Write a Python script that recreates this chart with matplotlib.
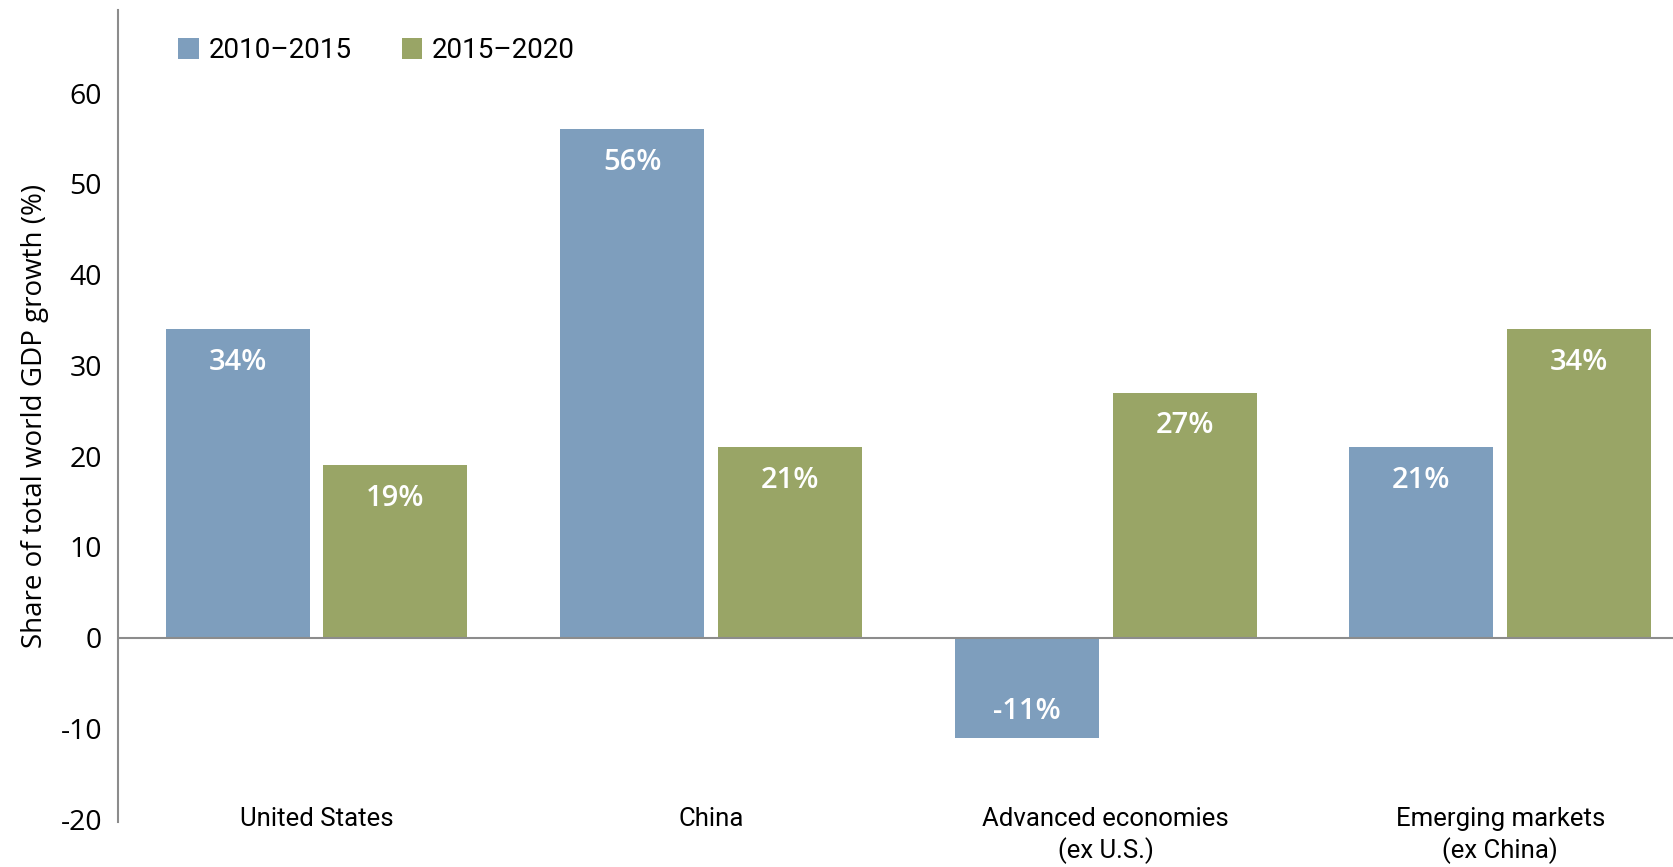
import matplotlib
matplotlib.use("Agg")
import matplotlib.pyplot as plt
import numpy as np

# data
regions = ["United States", "China", "Advanced economies\n(ex U.S.)", "Emerging markets\n(ex China)"]
share_2010_2015 = [34, 56, -11, 21]
share_2015_2020 = [19, 21, 27, 34]
series_names = ["2010\u20132015", "2015\u20132020"]
yticks = [-20, -10, 0, 10, 20, 30, 40, 50, 60]

blue = "#7e9ebd"
green = "#99a566"
narrow = ["Roboto", "DejaVu Sans"]
regular = ["Open Sans", "DejaVu Sans"]

fig = plt.figure(figsize=(16.74, 8.67), dpi=100)
ax = fig.add_axes([0.0705, 0.052, 0.9295, 0.937])

x = np.arange(len(regions))
w = 0.365
off = 0.2
b1 = ax.bar(x - off, share_2010_2015, width=w, color=blue, label=series_names[0])
b2 = ax.bar(x + off, share_2015_2020, width=w, color=green, label=series_names[1])

# value labels inside the bar ends
for bars, vals in ((b1, share_2010_2015), (b2, share_2015_2020)):
    for rect, v in zip(bars, vals):
        end = rect.get_y() + rect.get_height()
        dy = -24 if v >= 0 else 18.5
        ax.annotate(f"{v}%", (rect.get_x() + rect.get_width() / 2, end),
                    xytext=(0, dy), textcoords="offset points",
                    ha="center", va="center", color="white",
                    fontsize=21, fontweight="semibold", family=regular, zorder=5)

ax.axhline(0, color="#8c8c8c", lw=1.5, zorder=3)

ax.set_xlim(-0.503, 3.44)
ax.set_ylim(-20.3, 69.2)
ax.set_yticks(yticks)
ax.set_yticklabels([str(t) for t in yticks], family=regular, fontsize=20.5)
ax.tick_params(axis="y", length=0, pad=11.5)
ax.set_xticks(x)
ax.set_xticklabels(regions, family=narrow, fontsize=18.5, linespacing=1.3)
ax.tick_params(axis="x", length=0, pad=-10.5)

for s in ["top", "right", "bottom"]:
    ax.spines[s].set_visible(False)
ax.spines["left"].set_color("#8c8c8c")
ax.spines["left"].set_linewidth(1.5)

ax.set_ylabel("Share of total world GDP growth (%)", family=regular, fontsize=20, labelpad=8)

ax.legend(loc="upper left", bbox_to_anchor=(0.0385, 0.966), ncol=2, frameon=False,
          prop={"family": narrow, "size": 20}, handlelength=0.75, handleheight=0.75,
          handletextpad=0.35, columnspacing=1.8, borderpad=0, borderaxespad=0)

fig.savefig("out.png", dpi=100)
